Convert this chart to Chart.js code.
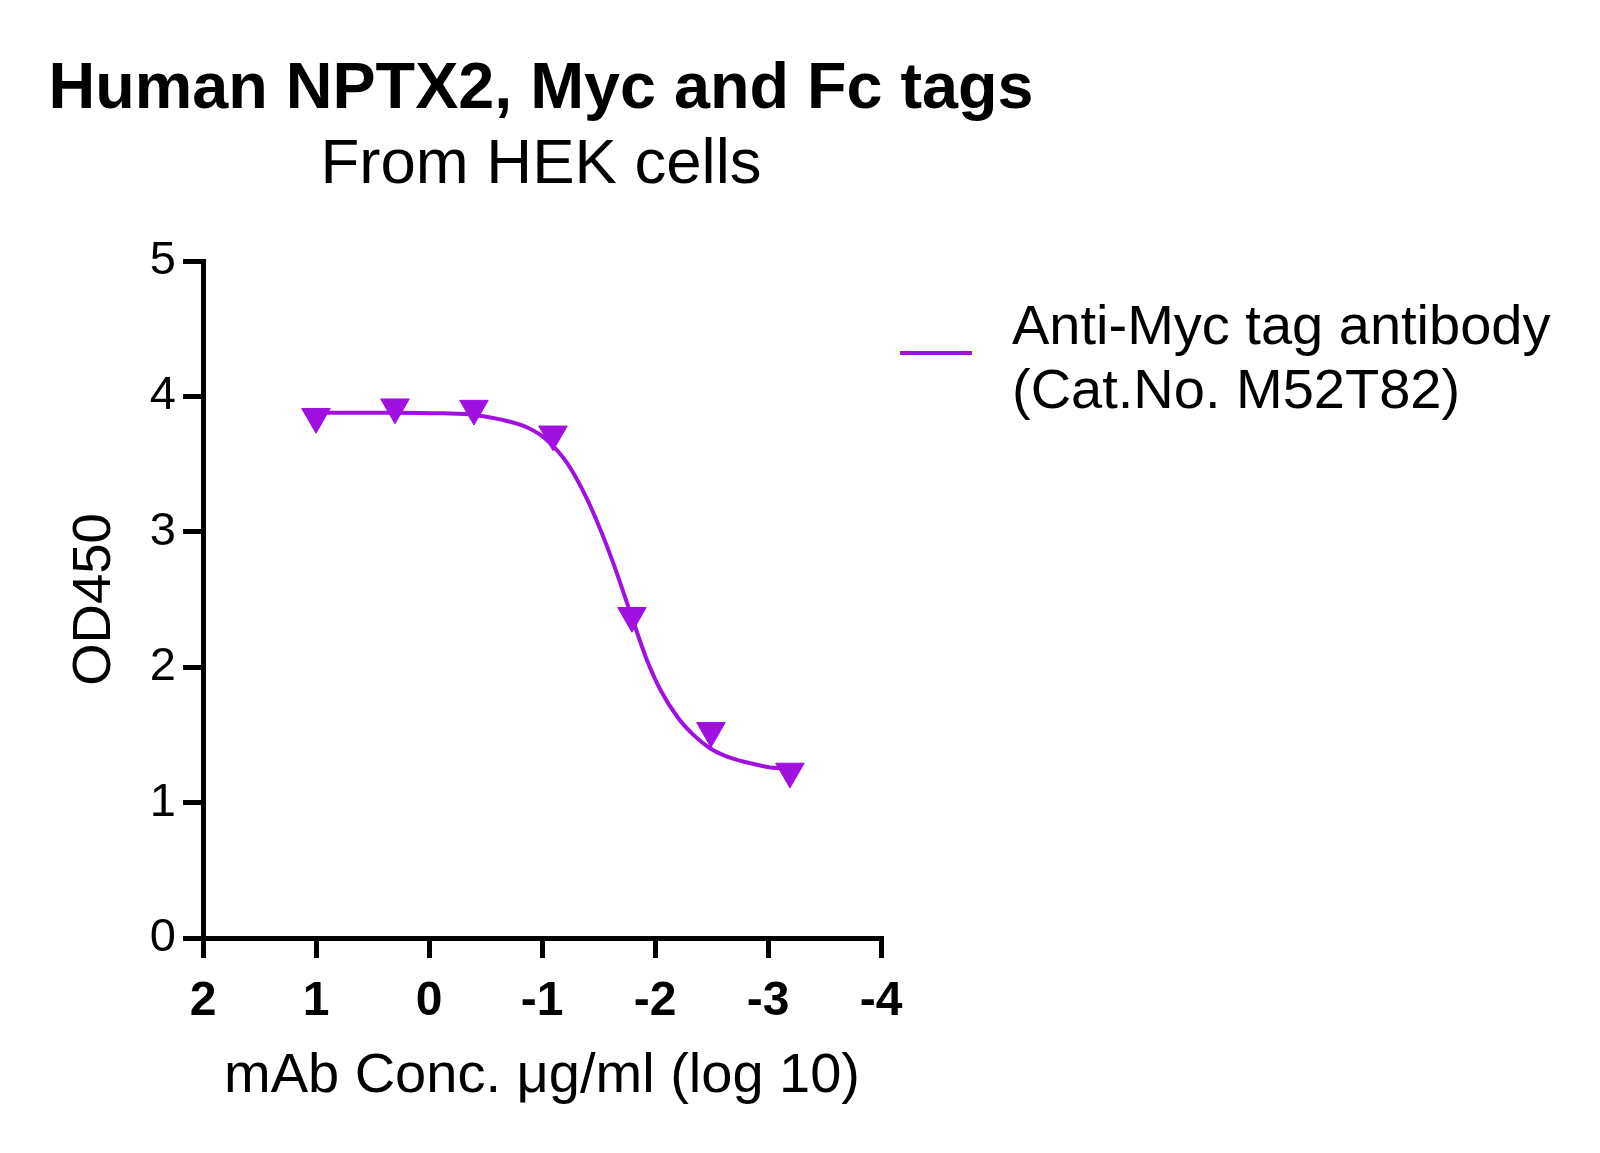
<!DOCTYPE html>
<html>
<head>
<meta charset="utf-8">
<title>Human NPTX2, Myc and Fc tags</title>
<script src="https://cdn.jsdelivr.net/npm/chart.js@4.4.1/dist/chart.umd.min.js"></script>
<style>
    html, body { margin: 0; padding: 0; background: #fff; overflow: hidden; }
    #wrap { position: relative; width: 1600px; height: 1153px; overflow: hidden; }
    #ec50_canvas { display: block; }
    .txt_box {
        position: absolute; color: #000; white-space: nowrap;
        font-family: "Liberation Sans", Arial, sans-serif;
    }
    #title { left: 41px; width: 1000px; top: 54px; text-align: center; font-size: 64.7px; line-height: 64.7px; font-weight: bold; }
    #subtitle { left: 41px; width: 1000px; top: 130px; text-align: center; font-size: 63.5px; line-height: 63.5px; }
    #legend { left: 900px; top: 293px; font-size: 56px; line-height: 64px; }
    #legend .swatch { position: absolute; left: 0; top: 58px; width: 72px; height: 3.5px; }
    #legend .lab { margin-left: 112px; }
</style>
</head>
<body>
<div id="wrap">
    <canvas id="ec50_canvas" width="1600" height="1153"></canvas>
    <div id="title" class="txt_box"></div>
    <div id="subtitle" class="txt_box"></div>
    <div id="legend" class="txt_box"><div class="swatch"></div><div class="lab"></div></div>
</div>
<script>
// measured points, x = log10 of mAb conc. (ug/ml)
var pointX = [1, 0.301, -0.398, -1.097, -1.796, -2.495, -3.194];
var pointY = [3.85, 3.92, 3.91, 3.72, 2.38, 1.53, 1.23];

// fitted curve
var curveX = [1, 0.89, 0.30, -0.13, -0.39, -0.63, -0.87, -1.04, -1.22, -1.40, -1.52, -1.63, -1.75, -1.84, -1.93, -2.05, -2.20, -2.34, -2.49, -2.67, -2.90, -3.02, -3.19];
var curveY = [3.88, 3.88, 3.88, 3.875, 3.865, 3.83, 3.77, 3.68, 3.51, 3.24, 3.01, 2.77, 2.48, 2.26, 2.05, 1.83, 1.63, 1.50, 1.40, 1.33, 1.28, 1.26, 1.25];

var xTicks = [2, 1, 0, -1, -2, -3, -4];
var yTicks = [0, 1, 2, 3, 4, 5];

var titleText = 'Human NPTX2, Myc and Fc tags';
var subtitleText = 'From HEK cells';
var seriesName = ['Anti-Myc tag antibody', '(Cat.No. M52T82)'];
var purple = '#a010e0';
var FONT = '"Liberation Sans", Arial, sans-serif';

function toXY(xs, ys) {
    return xs.map(function (x, i) { return { x: x, y: ys[i] }; });
}

// titles and legend as html text
document.getElementById('title').textContent = titleText;
document.getElementById('subtitle').textContent = subtitleText;
document.querySelector('#legend .swatch').style.background = purple;
document.querySelector('#legend .lab').innerHTML = seriesName.join('<br>');

Chart.defaults.font.family = FONT;
Chart.defaults.color = '#000';

var ctr = document.getElementById('ec50_canvas');
var chart = new Chart(ctr, {
    type: 'scatter',
    data: {
        datasets: [{
            label: 'fit',
            data: toXY(curveX, curveY),
            showLine: true,
            borderColor: purple,
            borderWidth: 4,
            pointRadius: 0,
            cubicInterpolationMode: 'monotone',
            fill: false
        }, {
            label: seriesName.join(' '),
            data: toXY(pointX, pointY),
            showLine: false,
            pointStyle: 'triangle',
            rotation: 180,
            pointRadius: 16.5,
            pointBackgroundColor: purple,
            pointBorderColor: purple,
            pointBorderWidth: 1
        }]
    },
    options: {
        responsive: false,
        animation: false,
        devicePixelRatio: 1,
        layout: {
            padding: { left: 60, right: 719, top: 261, bottom: 0 }
        },
        plugins: {
            legend: { display: false },
            tooltip: { enabled: false }
        },
        scales: {
            x: {
                type: 'linear',
                reverse: true,
                min: -4,
                max: 2,
                afterFit: function (scale) { scale.height = 215; },
                afterBuildTicks: function (scale) {
                    scale.ticks = xTicks.map(function (v) { return { value: v }; });
                },
                border: { display: true, width: 5, color: '#000' },
                grid: {
                    display: true,
                    drawOnChartArea: false,
                    drawTicks: true,
                    tickLength: 20,
                    lineWidth: 5,
                    color: '#000'
                },
                ticks: {
                    font: { size: 48, weight: 'bold' },
                    color: '#000',
                    padding: 15,
                    maxRotation: 0
                },
                title: {
                    display: true,
                    text: 'mAb Conc. \u03bcg/ml (log 10)',
                    font: { size: 56 },
                    color: '#000',
                    padding: { top: 0, bottom: 43 }
                }
            },
            y: {
                type: 'linear',
                min: 0,
                max: 5,
                afterFit: function (scale) { scale.width = 143; },
                afterBuildTicks: function (scale) {
                    scale.ticks = yTicks.map(function (v) { return { value: v }; });
                },
                border: { display: true, width: 5, color: '#000' },
                grid: {
                    display: true,
                    drawOnChartArea: false,
                    drawTicks: true,
                    tickLength: 20,
                    lineWidth: 5,
                    color: '#000'
                },
                ticks: {
                    font: { size: 47 },
                    color: '#000',
                    padding: 7
                },
                title: {
                    display: true,
                    text: 'OD450',
                    font: { size: 54.5 },
                    color: '#000',
                    padding: { top: 2, bottom: 0 }
                }
            }
        }
    }
});
</script>
</body>
</html>
